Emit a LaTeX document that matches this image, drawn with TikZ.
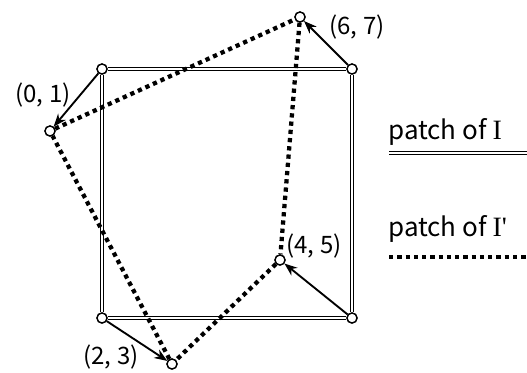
\documentclass[tikz,border=0pt]{standalone}
\usepackage{fontspec}
\setmainfont{Noto Sans CJK JP}
\newfontfamily\serifI{Liberation Serif}
\usetikzlibrary{arrows.meta}

\begin{document}
\begin{tikzpicture}[x=0.75pt, y=-0.75pt,
    pt/.style={circle, draw=black, fill=white, line width=1pt, inner sep=0pt, minimum size=7.5pt},
    orig/.style={draw=black, line width=0.9pt, double=white, double distance=1.5pt},
    moved/.style={line width=3.2pt, dash pattern=on 3.2pt off 3pt},
    a/.style={-{Stealth[length=3.4mm, width=2.6mm]}, line width=1.4pt},
    lbl/.style={font=\fontsize{18}{20}\selectfont, inner sep=0pt}
]
    \useasboundingbox (0,0) rectangle (527,372);
    % corners of the original patch
    \node[pt] (tl) at (102,69) {};
    \node[pt] (tr) at (352,69) {};
    \node[pt] (bl) at (102,318) {};
    \node[pt] (br) at (352,318) {};
    % displaced corners
    \node[pt] (p01) at (50,131) {};
    \node[pt] (p67) at (300,17) {};
    \node[pt] (p23) at (172,364) {};
    \node[pt] (p45) at (280,260) {};

    \draw[orig] (tl) -- (tr);
    \draw[orig] (tr) -- (br);
    \draw[orig] (br) -- (bl);
    \draw[orig] (bl) -- (tl);
    \draw[moved] (p01) -- (p67);
    \draw[moved] (p67) -- (p45);
    \draw[moved] (p45) -- (p23);
    \draw[moved] (p23) -- (p01);
    \draw[a] (tl) -- (p01);
    \draw[a] (tr) -- (p67);
    \draw[a] (bl) -- (p23);
    \draw[a] (br) -- (p45);
    % redraw the circles on top
    \foreach \n in {tl,tr,bl,br,p01,p67,p23,p45}
        \node[pt] at (\n) {};

    \node[lbl] (l01) at (43,95) {(0, 1)};
    \node[lbl] (l67) at (357,27) {(6, 7)};
    \node[lbl] (l23) at (111,357) {(2, 3)};
    \node[lbl] (l45) at (314,246) {(4, 5)};

    % legend
    \node[lbl, font=\fontsize{19.5}{20}\selectfont, anchor=base west] (leg1) at (388,139) {patch of {\serifI\fontsize{21}{20}\selectfont I}};
    \node[lbl, font=\fontsize{19.5}{20}\selectfont, anchor=base west] (leg2) at (388,236) {patch of {\serifI\fontsize{21}{20}\selectfont I'}};
    \coordinate (s1) at (389,153);
    \coordinate (e1) at (530,153);
    \coordinate (s2) at (389,257);
    \coordinate (e2) at (530,257);
    \draw[orig] (s1) -- (e1);
    \draw[moved] (s2) -- (e2);
\end{tikzpicture}
\end{document}
